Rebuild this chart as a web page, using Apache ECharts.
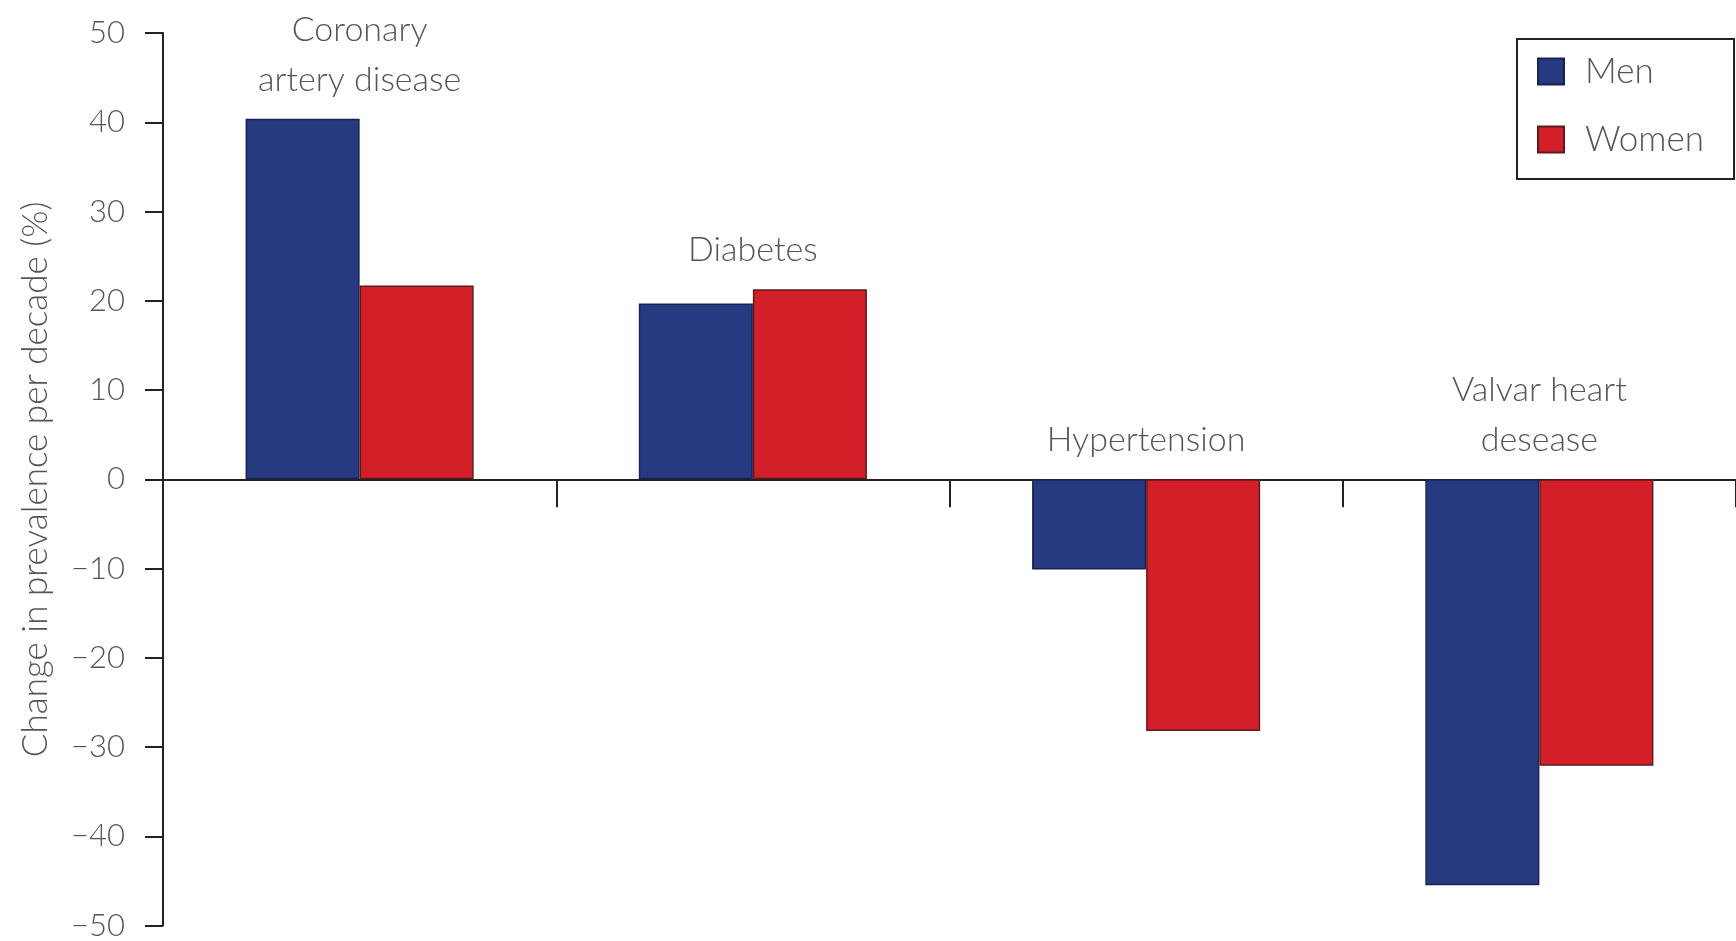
<!DOCTYPE html>
<html>
<head>
<meta charset="utf-8">
<title>Change in prevalence per decade</title>
<script src="https://cdn.jsdelivr.net/npm/echarts@6/dist/echarts.min.js"></script>
<style>
  html, body { margin: 0; padding: 0; background: #ffffff; }
  #chart { width: 1736px; height: 941px; }
</style>
</head>
<body>
<div id="chart"></div>
<script>
// Conditions, one group of bars each
const categories = ['Coronary\nartery disease', 'Diabetes', 'Hypertension', 'Valvar heart\ndesease'];
// Change in prevalence per decade (%)
const menValues = [40.4, 19.7, -10.1, -45.5];
const womenValues = [21.7, 21.3, -28.2, -32.1];
// Value axis ticks
const yTicks = [50, 40, 30, 20, 10, 0, -10, -20, -30, -40, -50];

const FONT = 'Lato, "Open Sans", "Noto Sans", sans-serif';
const TEXT_COLOR = '#555555';

// Category titles sit above the taller bar (or the zero line when both bars are negative)
const titleAnchors = categories.map((c, i) => [i, Math.max(0, menValues[i], womenValues[i])]);

const chart = echarts.init(document.getElementById('chart'), null, { renderer: 'canvas' });

chart.setOption({
  animation: false,
  backgroundColor: '#ffffff',
  grid: { left: 163, right: -3, top: 33, bottom: 14, containLabel: false },
  legend: {
    data: ['Men', 'Women'],
    orient: 'vertical',
    left: 1517,
    top: 39,
    icon: 'rect',
    itemWidth: 26,
    itemHeight: 26,
    itemGap: 33,
    padding: [15, 30, 22, 20],
    borderColor: '#222222',
    borderWidth: 2,
    backgroundColor: '#ffffff',
    textStyle: { fontFamily: FONT, fontWeight: 300, fontSize: 35, color: TEXT_COLOR, padding: [0, 0, 0, 16] }
  },
  xAxis: {
    type: 'category',
    data: categories,
    boundaryGap: true,
    axisLine: { onZero: true, lineStyle: { color: '#222222', width: 2 } },
    axisTick: { show: true, length: 28, lineStyle: { color: '#222222', width: 2 } },
    axisLabel: { show: false },
    splitLine: { show: false }
  },
  yAxis: {
    type: 'value',
    min: yTicks[yTicks.length - 1],
    max: yTicks[0],
    interval: 10,
    name: 'Change in prevalence per decade (%)',
    nameLocation: 'middle',
    nameGap: 110,
    nameTextStyle: { fontFamily: FONT, fontWeight: 300, fontSize: 35, color: TEXT_COLOR },
    axisLine: { show: true, lineStyle: { color: '#222222', width: 2 } },
    axisTick: { show: true, length: 18, lineStyle: { color: '#222222', width: 2 } },
    axisLabel: {
      margin: 38,
      fontFamily: FONT,
      fontWeight: 300,
      fontSize: 31,
      color: TEXT_COLOR,
      formatter: v => (v < 0 ? '\u2212' + Math.abs(v) : String(v))
    },
    splitLine: { show: false }
  },
  series: [
    {
      name: 'Men',
      type: 'bar',
      data: menValues,
      barGap: '0%',
      barCategoryGap: '42%',
      itemStyle: { color: '#253a80', borderColor: '#1a2350', borderWidth: 1.5 }
    },
    {
      name: 'Women',
      type: 'bar',
      data: womenValues,
      barGap: '0%',
      barCategoryGap: '42%',
      itemStyle: { color: '#d31f27', borderColor: '#5e1a1e', borderWidth: 1.5 }
    },
    {
      name: 'titles',
      type: 'custom',
      data: titleAnchors,
      silent: true,
      z: 5,
      renderItem: function (params, api) {
        const idx = api.value(0);
        const pt = api.coord([idx, api.value(1)]);
        return {
          type: 'text',
          x: pt[0],
          y: pt[1] - 14,
          style: {
            text: categories[idx],
            align: 'center',
            verticalAlign: 'bottom',
            fontFamily: FONT,
            fontWeight: 300,
            fontSize: 34,
            lineHeight: 50,
            fill: TEXT_COLOR
          }
        };
      }
    }
  ]
});
</script>
</body>
</html>
